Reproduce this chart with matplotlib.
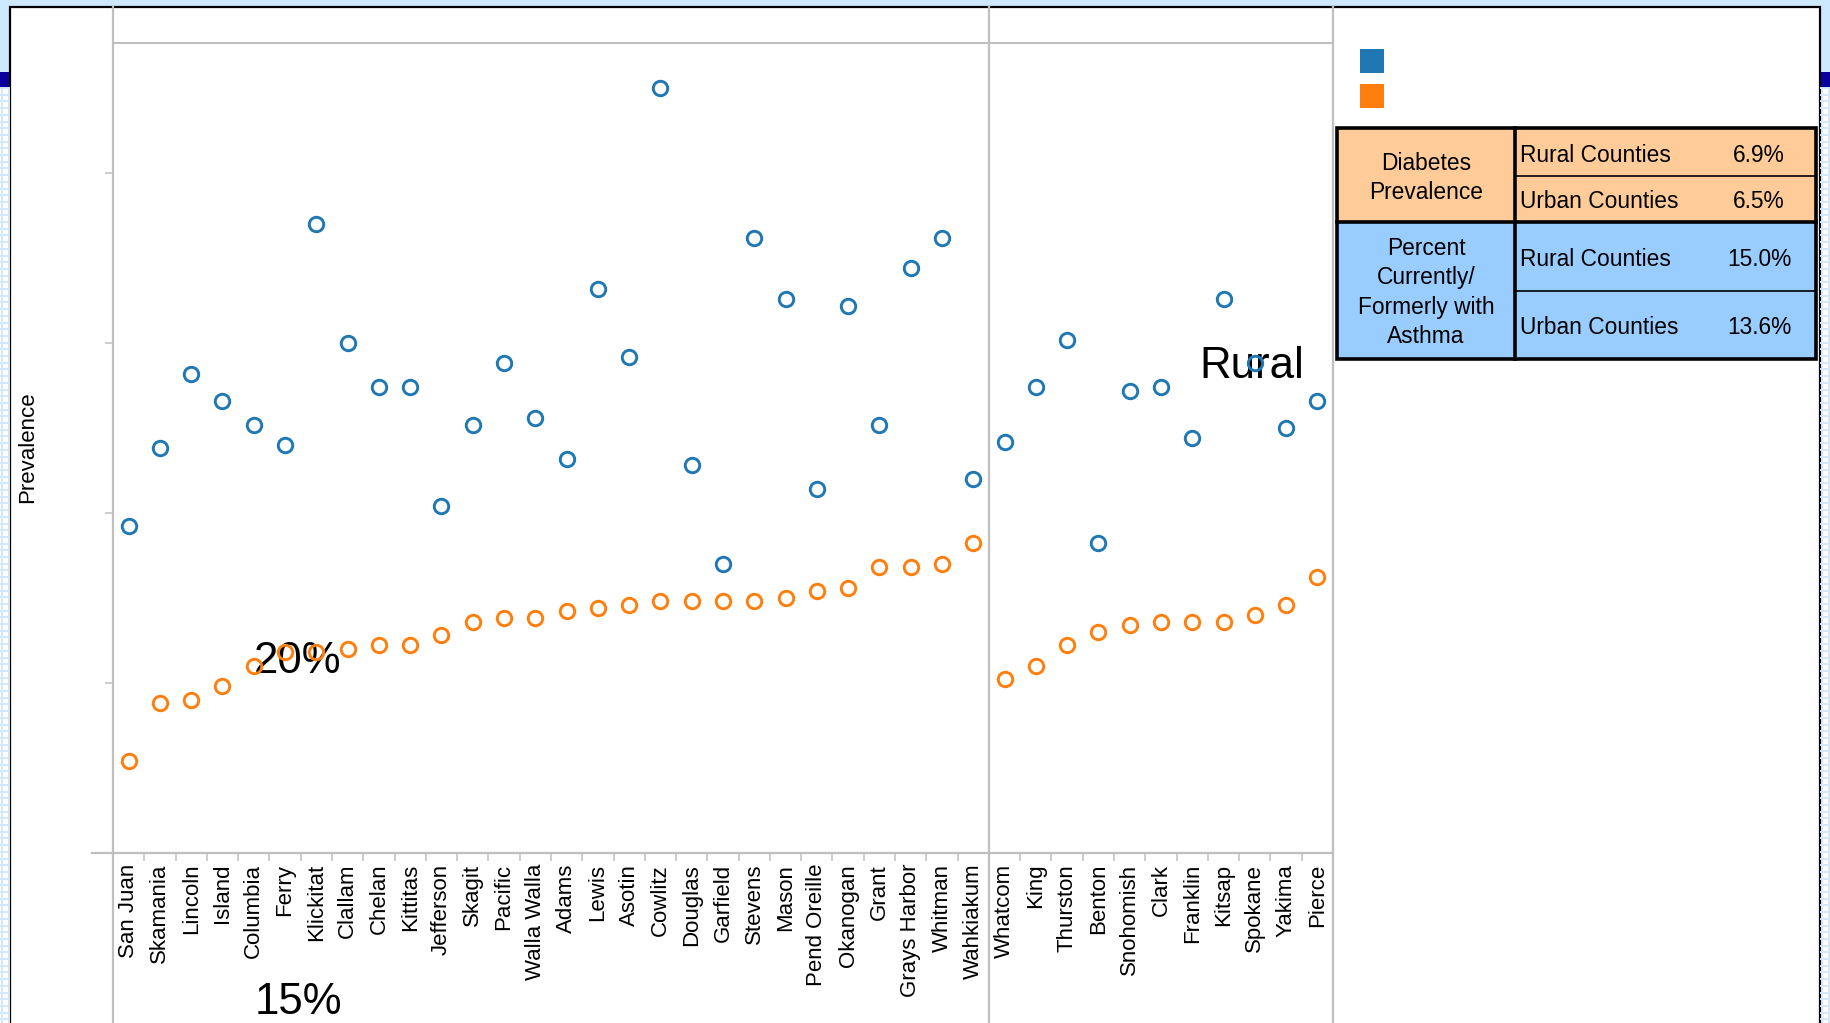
import numpy as np
import matplotlib
matplotlib.use("Agg")
import matplotlib.pyplot as plt
from matplotlib.patches import Rectangle
from matplotlib.ticker import FixedLocator

plt.rcParams['font.family'] = ['Liberation Sans', 'DejaVu Sans']

# ---------------- data ----------------
rural_counties = ["San Juan", "Skamania", "Lincoln", "Island", "Columbia", "Ferry",
                  "Klickitat", "Clallam", "Chelan", "Kittitas", "Jefferson", "Skagit",
                  "Pacific", "Walla Walla", "Adams", "Lewis", "Asotin", "Cowlitz",
                  "Douglas", "Garfield", "Stevens", "Mason", "Pend Oreille", "Okanogan",
                  "Grant", "Grays Harbor", "Whitman", "Wahkiakum"]
urban_counties = ["Whatcom", "King", "Thurston", "Benton", "Snohomish", "Clark",
                  "Franklin", "Kitsap", "Spokane", "Yakima", "Pierce"]

asthma_rural = [9.6, 11.9, 14.1, 13.3, 12.6, 12.0, 18.5, 15.0, 13.7, 13.7, 10.2, 12.6,
                14.4, 12.8, 11.6, 16.6, 14.6, 22.5, 11.4, 8.5, 18.1, 16.3, 10.7, 16.1,
                12.6, 17.2, 18.1, 11.0]
asthma_urban = [12.1, 13.7, 15.1, 9.1, 13.6, 13.7, 12.2, 16.3, 14.4, 12.5, 13.3]

diabetes_rural = [2.7, 4.4, 4.5, 4.9, 5.5, 5.9, 5.9, 6.0, 6.1, 6.1, 6.4, 6.8, 6.9, 6.9,
                  7.1, 7.2, 7.3, 7.4, 7.4, 7.4, 7.4, 7.5, 7.7, 7.8, 8.4, 8.4, 8.5, 9.1]
diabetes_urban = [5.1, 5.5, 6.1, 6.5, 6.7, 6.8, 6.8, 6.8, 7.0, 7.3, 8.1]

table_groups = ["Diabetes\nPrevalence", "Percent\nCurrently/\nFormerly with\nAsthma"]
table_rows = ["Rural Counties", "Urban Counties"]
table_diabetes = ["6.9%", "6.5%"]
table_asthma = ["15.0%", "13.6%"]

stray_texts = ["20%", "15%", "Rural"]
y_label = "Prevalence"

# ---------------- figure ----------------
W, H = 1830, 1023
fig = plt.figure(figsize=(W / 100, H / 100), dpi=100)

# overlay axes in pixel coordinates (background, panel, table, stray texts)
bg = fig.add_axes([0, 0, 1, 1], zorder=0)
bg.set_xlim(0, W)
bg.set_ylim(H, 0)
bg.axis('off')

light = '#cde9ff'
grid_c = '#d2e9fb'
# page background
bg.add_patch(Rectangle((0, 0), W, H, facecolor=light, edgecolor='none'))
# grid pattern in side strips
for x0, x1 in [(0, 10), (1820, W)]:
    bg.add_patch(Rectangle((x0, 88), x1 - x0, H - 88, facecolor='white', edgecolor='none'))
    for yy in np.arange(88, H, 6.7):
        bg.plot([x0, x1], [yy, yy], color=grid_c, lw=1.4, solid_capstyle='butt')
    for xx in np.arange(x0 + 2, x1, 6.7):
        bg.plot([xx, xx], [88, H], color=grid_c, lw=1.4, solid_capstyle='butt')
    bg.add_patch(Rectangle((x0, 72), x1 - x0, 16, facecolor='#0a009c', edgecolor='none'))
# white panel with black border
bg.add_patch(Rectangle((10, 7), 1810, H + 20, facecolor='white', edgecolor='black', lw=1.6))

# legend squares
bg.add_patch(Rectangle((1360, 49), 24, 24, facecolor='#1f77b4', edgecolor='none'))
bg.add_patch(Rectangle((1360, 84), 24, 24, facecolor='#ff7f0e', edgecolor='none'))

# summary table
tx0, tx1, tsplit = 1337, 1816, 1515
ty = [128, 176, 222, 291, 359]
bg.add_patch(Rectangle((tx0, ty[0]), tx1 - tx0, ty[2] - ty[0], facecolor='#ffcc99', edgecolor='none'))
bg.add_patch(Rectangle((tx0, ty[2]), tx1 - tx0, ty[4] - ty[2], facecolor='#99ccff', edgecolor='none'))
bg.plot([tsplit, tx1], [ty[1], ty[1]], color='black', lw=1.2)
bg.plot([tsplit, tx1], [ty[3], ty[3]], color='black', lw=1.2)
bg.plot([tx0, tx1], [ty[2], ty[2]], color='black', lw=2.6)
bg.plot([tsplit, tsplit], [ty[0], ty[4]], color='black', lw=2.6)
bg.add_patch(Rectangle((tx0, ty[0]), tx1 - tx0, ty[4] - ty[0], facecolor='none',
                       edgecolor='black', lw=2.6))
fs_t = 16.4
bg.text((tx0 + tsplit) / 2, (ty[0] + ty[2]) / 2 + 3, table_groups[0], ha='center', va='center',
        fontsize=fs_t, linespacing=1.37)
bg.text((tx0 + tsplit) / 2, (ty[2] + ty[4]) / 2 + 2, table_groups[1], ha='center', va='center',
        fontsize=fs_t, linespacing=1.37)
for k, vals in enumerate([table_diabetes, table_asthma]):
    for j in range(2):
        yc = (ty[2 * k + j] + ty[2 * k + j + 1]) / 2 + 3
        bg.text(tsplit + 5, yc, table_rows[j], ha='left', va='center', fontsize=fs_t)
        bg.text(1759, yc, vals[j], ha='center', va='center', fontsize=fs_t)

# stray large texts
bg.text(298, 673, stray_texts[0], ha='center', va='baseline', fontsize=31.5)
bg.text(298, 1014, stray_texts[1], ha='center', va='baseline', fontsize=31.5)
bg.text(1252, 378, stray_texts[2], ha='center', va='baseline', fontsize=31.5)
bg.text(28, 447, y_label, ha='center', va='center', rotation=90, fontsize=16)

# ---------------- main axes ----------------
ax_l, ax_r, ax_t, ax_b = 113, 1333, 43, 852.7
ax = fig.add_axes([ax_l / W, 1 - ax_b / H, (ax_r - ax_l) / W, (ax_b - ax_t) / H], zorder=1)
ax.patch.set_visible(False)

counties = rural_counties + urban_counties
asthma = asthma_rural + asthma_urban
diabetes = diabetes_rural + diabetes_urban
x = np.arange(len(counties))

gray = '#bfbfbf'
n = len(counties)
ax.set_xlim(-0.5, n - 0.5)
ymax = (ax_b - ax_t) / 169.9 * 5
ax.set_ylim(0, ymax)

for s in ['left', 'right', 'bottom']:
    ax.spines[s].set_visible(False)
ax.spines['top'].set_color(gray)
ax.spines['top'].set_linewidth(1.5)

# extended vertical lines (left axis, rural/urban separator, right edge)
lo = -(H - ax_b) / (ax_b - ax_t)
hi = (ax_b - 7) / (ax_b - ax_t)
for xv in [-0.5, len(rural_counties) - 0.5, n - 0.5]:
    ax.axvline(xv, ymin=lo, ymax=hi, color=gray, lw=1.6, clip_on=False, zorder=1)
ax.axhline(0, xmin=-21 / (ax_r - ax_l), xmax=1, color=gray, lw=1.6, clip_on=False, zorder=1)

ax.set_xticks(x)
ax.set_xticklabels(counties, rotation=90, fontsize=16, va='top', ha='center')
ax.xaxis.set_minor_locator(FixedLocator(np.arange(-0.5, n, 1)))
ax.tick_params(axis='x', which='major', length=0, pad=8)
ax.tick_params(axis='x', which='minor', length=5.5, width=1.1, color=gray)
ax.set_yticks([0, 5, 10, 15, 20])
ax.tick_params(axis='y', which='major', length=5.8, width=1.1, color=gray, labelleft=False)

ax.plot(x, asthma, linestyle='none', marker='o', markersize=10.4, markerfacecolor='none',
        markeredgecolor='#1f77b4', markeredgewidth=2.1, zorder=3, clip_on=False)
ax.plot(x, diabetes, linestyle='none', marker='o', markersize=10.4, markerfacecolor='none',
        markeredgecolor='#ff7f0e', markeredgewidth=2.1, zorder=3, clip_on=False)

fig.savefig('out.png', dpi=100)
